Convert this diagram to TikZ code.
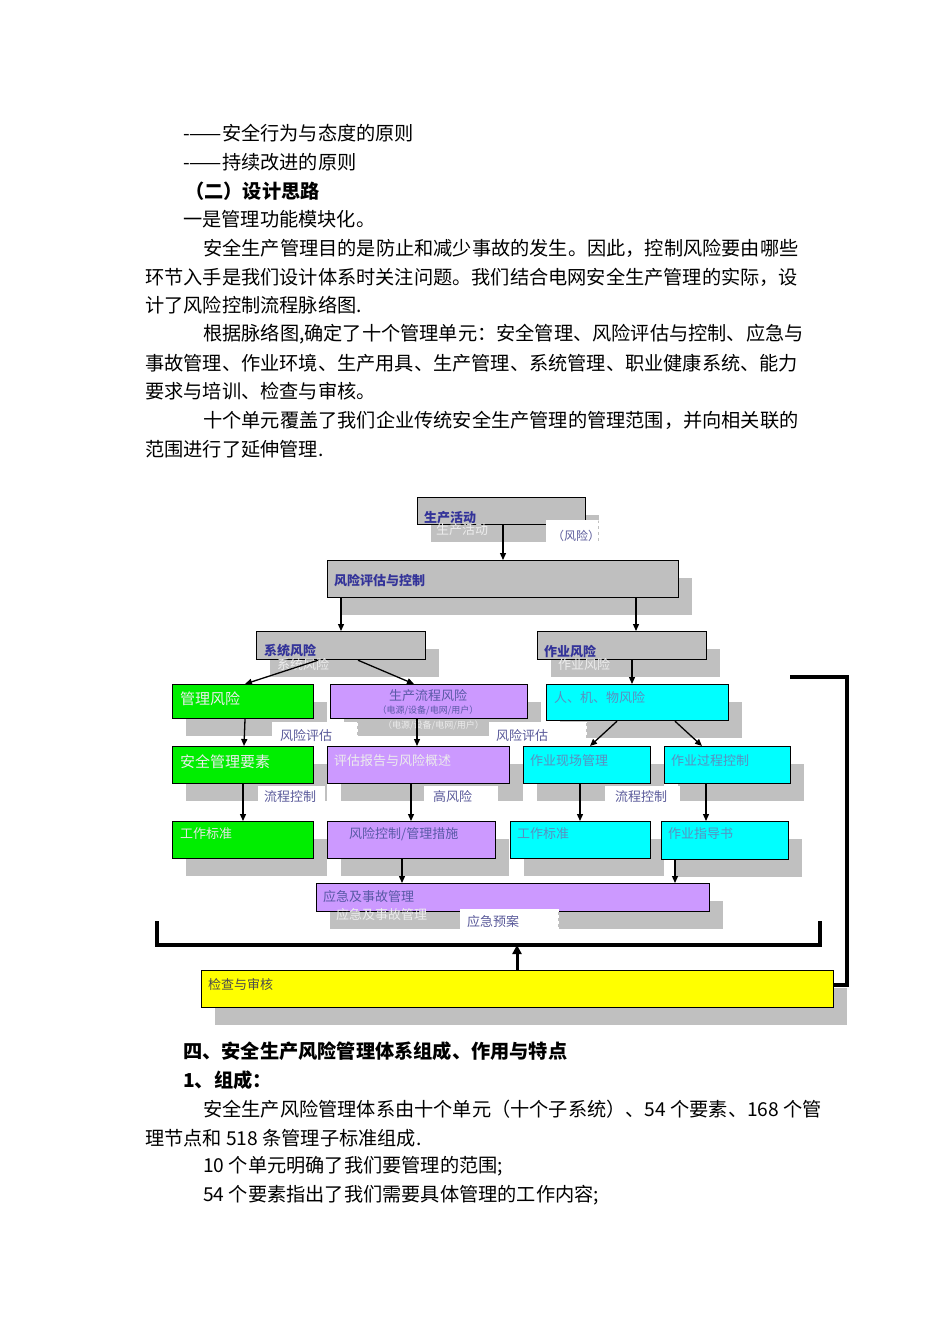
\documentclass[tikz,border=0pt]{standalone}
\usepackage{fontspec}
\setmainfont{Noto Sans CJK SC}
\usetikzlibrary{arrows.meta}
\definecolor{shad}{HTML}{C0C0C0}
\definecolor{gbox}{HTML}{BFBFBF}
\definecolor{grn}{HTML}{00EE00}
\definecolor{vio}{HTML}{CC99FF}
\definecolor{cya}{HTML}{00FFFF}
\definecolor{ylw}{HTML}{FFFF00}
\definecolor{lbl}{HTML}{5A5A9A}
\definecolor{ttl}{HTML}{333399}
\definecolor{cyt}{HTML}{5A8FC0}
\newcommand\bx[6]{%
 \fill[shad] (#2+14,#3+18) rectangle ++(#4,#5);
 \node[draw=black,line width=1.2pt,fill=#6,minimum width=#4pt,minimum height=#5pt,inner sep=0,anchor=north west] (#1) at (#2,#3) {};}
\newcommand\lab[5]{%
 \node[draw=white,dashed,fill=white,minimum width=#3pt,minimum height=#4pt,inner sep=0,anchor=north west] (#5) at (#1,#2) {};}
\begin{document}
\begin{tikzpicture}[x=1pt,y=-1pt,
 arr/.style={-{Triangle[length=7pt,width=6pt]},line width=1.3pt},
 thick2/.style={line width=3.5pt},
 bt/.style={anchor=west,inner sep=0,font=\fontsize{13}{15}\selectfont},
 ghost/.style={anchor=west,inner sep=0,font=\fontsize{13}{15}\selectfont,text=white!85!gray}]
\useasboundingbox[fill=white] (0,0) rectangle (950,1344);
% body text
\begin{scope}[every node/.style={anchor=west,inner sep=0,font=\fontsize{19.2}{21}\selectfont}]
\node (t1) at (183,133) {-——安全行为与态度的原则};
\node (t2) at (183,162) {-——持续改进的原则};
\node (t3) at (185,191) {\textbf{（二）设计思路}};
\node (t4) at (183,219) {一是管理功能模块化。};
\node (t5) at (203,248) {安全生产管理目的是防止和减少事故的发生。因此，控制风险要由哪些};
\node (t6) at (145,277) {环节入手是我们设计体系时关注问题。我们结合电网安全生产管理的实际，设};
\node (t7) at (145,305) {计了风险控制流程脉络图.};
\node (t8) at (203,334) {根据脉络图,确定了十个管理单元：安全管理、风险评估与控制、应急与};
\node (t9) at (145,363) {事故管理、作业环境、生产用具、生产管理、系统管理、职业健康系统、能力};
\node (t10) at (145,391) {要求与培训、检查与审核。};
\node (t11) at (203,420) {十个单元覆盖了我们企业传统安全生产管理的管理范围，并向相关联的};
\node (t12) at (145,449) {范围进行了延伸管理.};
\node (t13) at (183,1051) {\textbf{四、安全生产风险管理体系组成、作用与特点}};
\node (t14) at (183,1080) {\textbf{1、组成：}};
\node (t15) at (203,1109) {安全生产风险管理体系由十个单元（十个子系统）、54 个要素、168 个管};
\node (t16) at (145,1138) {理节点和 518 条管理子标准组成.};
\node (t17) at (203,1166) {10 个单元明确了我们要管理的范围;};
\node (t18) at (203,1195) {54 个要素指出了我们需要具体管理的工作内容;};
\end{scope}
% diagram boxes
\bx{scd}{417}{497}{168}{27}{gbox}
\bx{fx}{327}{560}{351}{37}{gbox}
\bx{xt}{256}{631}{169}{28}{gbox}
\bx{zy}{537}{631}{169}{28}{gbox}
\bx{gl}{172}{684}{141}{34}{grn}
\bx{sc}{330}{684}{197}{34}{vio}
\bx{rj}{546}{684}{182}{36}{cya}
\lab{546}{520}{52}{26}{l1}
\lab{272}{722}{85}{27}{l2}
\lab{489}{722}{97}{24}{l3}
\bx{aq}{172}{746}{141}{37}{grn}
\bx{pg}{327}{746}{182}{37}{vio}
\bx{xc}{523}{746}{127}{37}{cya}
\bx{gc}{664}{746}{126}{37}{cya}
\fill[white] (258,786) rectangle (325,810);
\fill[white] (424,786) rectangle (498,810);
\fill[white] (605,786) rectangle (680,810);
\bx{gb}{172}{821}{141}{37}{grn}
\bx{fk}{327}{821}{168}{37}{vio}
\bx{gb2}{510}{821}{140}{37}{cya}
\bx{zd}{661}{821}{127}{38}{cya}
\bx{yj}{316}{883}{393}{28}{vio}
\lab{460}{909}{98}{25}{l4}
\bx{jc}{201}{970}{632}{37}{ylw}
% texts
\node[bt,text=ttl] at (424,518) {\textbf{生产活动}};
\node[ghost] at (436,530) {生产活动};
\node[bt,font=\fontsize{12}{14}\selectfont,text=lbl] at (552,536) {（风险）};
\node[bt,text=ttl] at (334,580) {\textbf{风险评估与控制}};
\node[bt,text=ttl] at (264,651) {\textbf{系统风险}};
\node[ghost] at (277,665) {系统风险};
\node[bt,text=ttl] at (544,651) {\textbf{作业风险}};
\node[ghost] at (558,665) {作业风险};
\node[bt,font=\fontsize{15}{17}\selectfont,text=white!85!gray] at (180,699) {管理风险};
\node[anchor=center,inner sep=0,font=\fontsize{13}{15}\selectfont,text=gray!70!blue] at (428,696) {生产流程风险};
\node[anchor=center,inner sep=0,font=\fontsize{9}{10}\selectfont,text=gray!70!blue] at (428,710) {（电源/设备/电网/用户）};
\node[ghost,font=\fontsize{9}{10}\selectfont] at (383,725) {（电源/设备/电网/用户）};
\node[bt,text=cyt] at (554,698) {人、机、物风险};
\node[bt,text=lbl] at (280,736) {风险评估};
\node[bt,text=lbl] at (496,736) {风险评估};
\node[bt,font=\fontsize{15}{17}\selectfont,text=white!85!gray] at (180,762) {安全管理要素};
\node[bt,text=white!85!gray] at (334,761) {评估报告与风险概述};
\node[bt,text=cyt] at (530,761) {作业现场管理};
\node[bt,text=cyt] at (671,761) {作业过程控制};
\node[bt,text=lbl] at (264,797) {流程控制};
\node[bt,text=lbl] at (433,797) {高风险};
\node[bt,text=lbl] at (615,797) {流程控制};
\node[bt,text=white!80!gray] at (180,834) {工作标准};
\node[bt,text=gray!70!blue] at (349,834) {风险控制/管理措施};
\node[bt,text=cyt] at (517,834) {工作标准};
\node[bt,text=cyt] at (668,834) {作业指导书};
\node[bt,text=gray!70!blue] at (323,897) {应急及事故管理};
\node[ghost] at (336,915) {应急及事故管理};
\node[bt,text=lbl] at (467,922) {应急预案};
\node[bt,text=gray!60!black] at (208,985) {检查与审核};
% arrows
\draw[arr] ([xshift=86pt]scd.south west) -- ([xshift=176pt]fx.north west);
\draw[arr] ([xshift=14pt]fx.south west) -- ([xshift=85pt]xt.north west);
\draw[arr] ([xshift=309pt]fx.south west) -- ([xshift=99pt]zy.north west);
\draw[arr] ([xshift=62pt]xt.south west) -- ([xshift=73pt]gl.north west);
\draw[arr] ([xshift=102pt]xt.south west) -- ([xshift=84pt]sc.north west);
\draw[arr] ([xshift=95pt]zy.south west) -- ([xshift=86pt]rj.north west);
\draw[arr] ([xshift=73pt]gl.south west) -- ([xshift=72pt]aq.north west);
\draw[arr] ([xshift=87pt]sc.south west) -- ([xshift=90pt]pg.north west);
\draw[arr] ([xshift=71pt]rj.south west) -- ([xshift=67pt]xc.north west);
\draw[arr] ([xshift=129pt]rj.south west) -- ([xshift=38pt]gc.north west);
\draw[arr] ([xshift=71pt]aq.south west) -- ([xshift=71pt]gb.north west);
\draw[arr] ([xshift=84pt]pg.south west) -- ([xshift=84pt]fk.north west);
\draw[arr] ([xshift=57pt]xc.south west) -- ([xshift=70pt]gb2.north west);
\draw[arr] ([xshift=42pt]gc.south west) -- ([xshift=45pt]zd.north west);
\draw[arr] ([xshift=75pt]fk.south west) -- ([xshift=86pt]yj.north west);
\draw[arr] ([xshift=14pt]zd.south west) -- ([xshift=359pt]yj.north west);
% brackets
\coordinate (b1) at (157,921);
\coordinate (b2) at (820,921);
\coordinate (bm) at (517,945);
\draw[thick2] (b1) |- (bm) -| (b2);
\draw[-{Triangle[length=9pt,width=9pt]},line width=3pt] ([xshift=316pt]jc.north west) -- (bm);
\coordinate (r1) at (790,677);
\coordinate (r2) at (847,677);
\draw[thick2] (r1) -- (r2) |- ([yshift=-15pt]jc.north east);
\end{tikzpicture}
\end{document}
